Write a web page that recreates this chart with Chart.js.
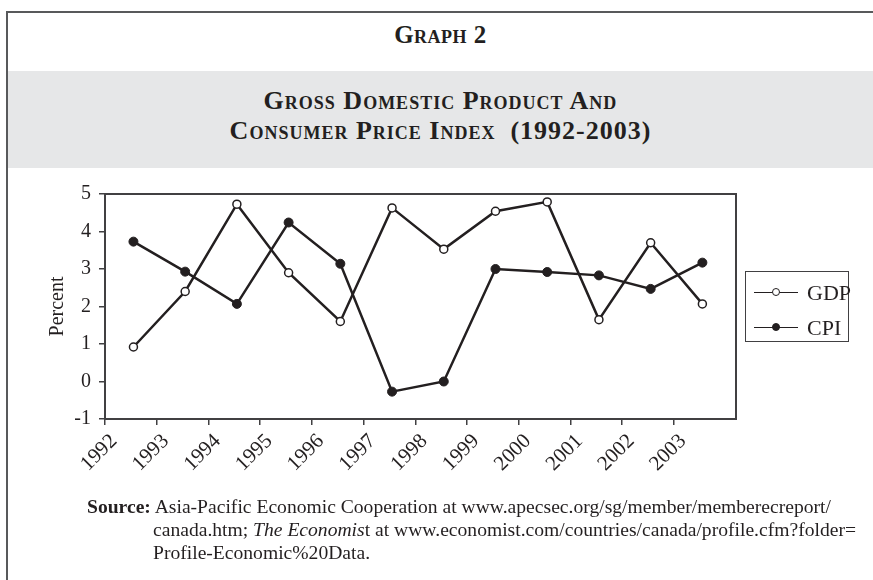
<!DOCTYPE html>
<html>
<head>
<meta charset="utf-8">
<title>Graph 2</title>
<script src="https://cdn.jsdelivr.net/npm/chart.js@4.4.1/dist/chart.umd.min.js"></script>
<style>
  html, body { margin: 0; padding: 0; background: #fff; }
  body {
    width: 873px; height: 580px; position: relative; overflow: hidden;
    font-family: "Liberation Serif", "Times New Roman", serif; color: #231f20;
  }
  #frame {
    position: absolute; left: 6px; top: 11px; width: 900px; height: 600px;
    border-left: 2px solid #58595b; border-top: 2px solid #58595b;
  }
  #band { position: absolute; left: 8px; top: 71px; width: 865px; height: 97px; background: #e6e7e8; }
  .hd {
    position: absolute; left: 8px; width: 865px; text-align: center;
    font-weight: bold; font-variant: small-caps;
  }
  #graphNo { top: 21px; font-size: 25px; line-height: 28px; letter-spacing: 0.5px; }
  #title { top: 86px; font-size: 26px; line-height: 30px; letter-spacing: 1px; }
  #chartBox { position: absolute; left: 0; top: 0; width: 873px; height: 580px; }
  #legend {
    position: absolute; left: 745px; top: 271px; width: 104px; height: 71px;
    border: 1.5px solid #414042; box-sizing: border-box; background: #fff;
  }
  #legend .item { position: absolute; left: 0; height: 24px; font-size: 22px; line-height: 24px; }
  #legend .ln {
    position: absolute; left: 8px; top: 11px; width: 44px; height: 0;
    border-top: 1.5px solid #231f20;
  }
  #legend .dot {
    position: absolute; left: 18px; top: -5.5px; width: 6px; height: 6px;
    border: 1.5px solid #231f20; border-radius: 50%;
  }
  #legend .txt { position: absolute; left: 61px; top: 0; }
  #source {
    position: absolute; left: 87px; top: 495px; width: 790px;
    font-size: 19.6px; line-height: 23px;
    padding-left: 66px; text-indent: -66px; box-sizing: border-box;
  }
</style>
</head>
<body>
<div id="frame"></div>
<div id="band"></div>
<div id="graphNo" class="hd">Graph 2</div>
<div id="title" class="hd">Gross Domestic Product And<br>Consumer Price Index&nbsp; (1992-2003)</div>
<div id="chartBox"><canvas id="lineChart"></canvas></div>
<div id="legend"></div>
<div id="source"><b>Source:</b> Asia-Pacific Economic Cooperation at www.apecsec.org/sg/member/memberecreport/<br>canada.htm; <i>The Economis</i>t at www.economist.com/countries/canada/profile.cfm?folder=<br>Profile-Economic%20Data.</div>

<script>
// data
const years = [1992, 1993, 1994, 1995, 1996, 1997, 1998, 1999, 2000, 2001, 2002, 2003];
const gdp = [0.92, 2.4, 4.73, 2.9, 1.6, 4.63, 3.53, 4.54, 4.79, 1.65, 3.7, 2.07];
const cpi = [3.73, 2.93, 2.07, 4.24, 3.14, -0.27, 0.0, 3.0, 2.92, 2.83, 2.47, 3.17];
const yTicks = [-1, 0, 1, 2, 3, 4, 5];

// points sit inside each year, the tick marks are at the year start
const midYear = 0.55;

const ink = '#231f20';
const fontFam = '"Liberation Serif", "Times New Roman", serif';

function toPoints(vals) {
  return years.map((y, i) => ({ x: y + midYear, y: vals[i] }));
}

// box around the plot area
const plotFrame = {
  id: 'plotFrame',
  afterDatasetsDraw(chart) {
    const a = chart.chartArea;
    const ctx = chart.ctx;
    ctx.save();
    ctx.strokeStyle = '#414042';
    ctx.lineWidth = 2;
    ctx.strokeRect(a.left, a.top, a.right - a.left, a.bottom - a.top);
    ctx.restore();
  }
};

const ctx = document.getElementById('lineChart').getContext('2d');
const chart = new Chart(ctx, {
  type: 'line',
  data: {
    datasets: [
      {
        label: 'GDP',
        data: toPoints(gdp),
        borderColor: ink,
        borderWidth: 2.5,
        pointRadius: 4,
        pointBackgroundColor: '#fff',
        pointBorderColor: ink,
        pointBorderWidth: 1.5
      },
      {
        label: 'CPI',
        data: toPoints(cpi),
        borderColor: ink,
        borderWidth: 2.5,
        pointRadius: 4.5,
        pointBackgroundColor: ink,
        pointBorderColor: ink,
        pointBorderWidth: 1
      }
    ]
  },
  options: {
    responsive: true,
    maintainAspectRatio: false,
    animation: false,
    layout: { padding: { left: 46, top: 194, right: 137, bottom: 81 } },
    plugins: { legend: { display: false }, tooltip: { enabled: false } },
    scales: {
      x: {
        type: 'linear',
        min: 1992,
        max: 2004.2,
        afterBuildTicks: axis => { axis.ticks = years.map(v => ({ value: v })); },
        afterFit: s => { s.height = 80; },
        ticks: {
          callback: v => String(v),
          minRotation: 45,
          maxRotation: 45,
          autoSkip: false,
          labelOffset: 9,
          padding: 4,
          color: ink,
          font: { family: fontFam, size: 21 }
        },
        grid: { drawOnChartArea: false, tickLength: 6, color: '#414042', lineWidth: 1.5 },
        border: { color: '#414042', width: 2 }
      },
      y: {
        min: -1,
        max: 5,
        afterBuildTicks: axis => { axis.ticks = yTicks.map(v => ({ value: v })); },
        afterFit: s => { s.width = 59; },
        ticks: {
          callback: v => String(v),
          padding: 8,
          color: ink,
          font: { family: fontFam, size: 20 }
        },
        title: {
          display: true,
          text: 'Percent',
          padding: 0,
          color: ink,
          font: { family: fontFam, size: 20 }
        },
        grid: { drawOnChartArea: false, tickLength: 6, color: '#414042', lineWidth: 1.5 },
        border: { color: '#414042', width: 2 }
      }
    }
  },
  plugins: [plotFrame]
});

// html legend built from the datasets
const legendEl = document.getElementById('legend');
legendEl.innerHTML = chart.data.datasets.map((ds, i) => {
  return `<div class="item" style="top:${9 + i * 35}px">
    <span class="ln"><span class="dot" style="background:${ds.pointBackgroundColor}"></span></span>
    <span class="txt">${ds.label}</span>
  </div>`;
}).join('');
</script>
</body>
</html>
